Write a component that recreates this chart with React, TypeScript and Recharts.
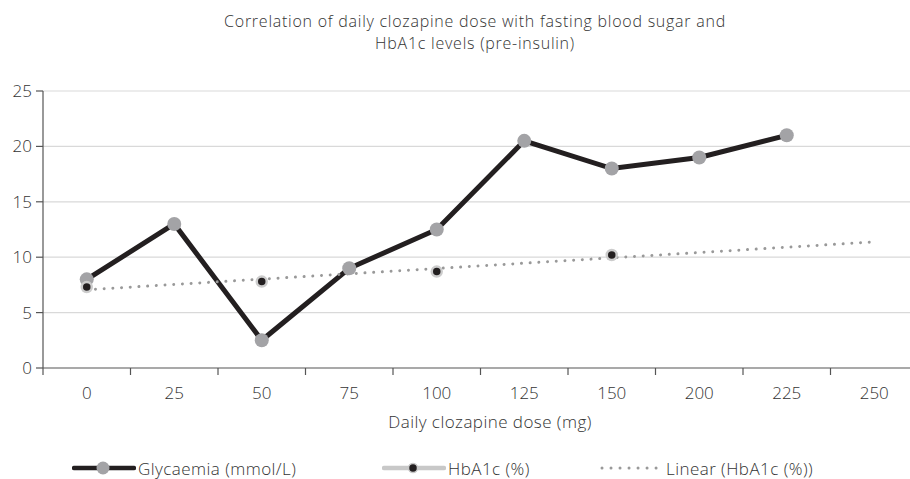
import React from "react";
import { LineChart, Line, XAxis, YAxis, CartesianGrid } from "recharts";

const doses = ["0", "25", "50", "75", "100", "125", "150", "200", "225", "250"];
const glycaemia = [8, 13, 2.5, 9, 12.5, 20.5, 18, 19, 21, null];
const hba1c = [7.3, null, 7.8, null, 8.7, null, 10.2, null, null, null];
// Excel linear trendline, read at its two ends
const hba1cTrend = [7.06, null, null, null, null, null, null, null, null, 11.38];
const yTicks = [0, 5, 10, 15, 20, 25];

const data = doses.map((d, i) => ({
  dose: d,
  glycaemia: glycaemia[i],
  hba1c: hba1c[i],
  trend: hba1cTrend[i],
}));

const FONT = "'Open Sans', sans-serif";
const WEIGHT = 300;
const SPACING = "0.45px";
const TEXT = "#333333";
const AXIS = "#555555";
const CHART_W = 918;
const CHART_H = 479;
const MARGIN = { top: 91, right: 0, bottom: 81, left: 0 };
const Y_AXIS_W = 43;
const AXIS_Y = CHART_H - MARGIN.bottom - 30;
const BW = (CHART_W - Y_AXIS_W) / doses.length;

const XTick = (props: any) => {
  const { x, payload, index } = props;
  const left = x - BW / 2;
  return (
    <g>
      <line x1={left} x2={left} y1={AXIS_Y} y2={AXIS_Y + 7} stroke={AXIS} strokeWidth={1.2} />
      {index === doses.length - 1 && (
        <line x1={x + BW / 2} x2={x + BW / 2} y1={AXIS_Y} y2={AXIS_Y + 7} stroke={AXIS} strokeWidth={1.2} />
      )}
      <text
        x={x}
        y={AXIS_Y + 24}
        textAnchor="middle"
        dominantBaseline="central"
        fill={TEXT}
        fontSize={17}
        fontWeight={WEIGHT}
        fontFamily={FONT}
      >
        {payload.value}
      </text>
    </g>
  );
};

const GlyDot = (props: any) => {
  const { cx, cy, value } = props;
  if (value == null || cx == null) return null;
  return <circle cx={cx} cy={cy} r={7} fill="#a3a3a6" />;
};

const HbDot = (props: any) => {
  const { cx, cy, value } = props;
  if (value == null || cx == null) return null;
  return <circle cx={cx} cy={cy} r={5} fill="#231f20" stroke="#cccccc" strokeWidth={2.5} />;
};

function LegendRow() {
  const item = (left: number, icon: React.ReactNode, label: string) => (
    <div style={{ position: "absolute", left, top: 0, display: "flex", alignItems: "center", height: 20 }}>
      <svg width={64} height={20} style={{ display: "block" }}>
        {icon}
      </svg>
      <span style={{ marginLeft: 2, whiteSpace: "nowrap" }}>{label}</span>
    </div>
  );
  return (
    <div
      style={{
        position: "absolute",
        left: 0,
        top: 458,
        width: 910,
        height: 20,
        fontFamily: FONT,
        fontWeight: WEIGHT,
        fontSize: 17,
        letterSpacing: SPACING,
        color: TEXT,
      }}
    >
      {item(
        72,
        <>
          <line x1={2} x2={62} y1={10} y2={10} stroke="#231f20" strokeWidth={4.5} strokeLinecap="round" />
          <circle cx={31} cy={10} r={6.5} fill="#a3a3a6" />
        </>,
        "Glycaemia (mmol/L)"
      )}
      {item(
        382,
        <>
          <line x1={2} x2={62} y1={10} y2={10} stroke="#c8c8c8" strokeWidth={4.5} strokeLinecap="round" />
          <circle cx={31} cy={10} r={4.5} fill="#231f20" stroke="#c8c8c8" strokeWidth={1.5} />
        </>,
        "HbA1c (%)"
      )}
      {item(
        600,
        <line x1={2} x2={58} y1={10} y2={10} stroke="#999999" strokeWidth={3} strokeDasharray="0.01 9" strokeLinecap="round" />,
        "Linear (HbA1c (%))"
      )}
    </div>
  );
}

export default function App() {
  return (
    <div
      style={{
        position: "absolute",
        left: 0,
        top: 0,
        width: 910,
        height: 479,
        overflow: "hidden",
        background: "#fff",
      }}
    >
      <div
        style={{
          position: "absolute",
          left: 40,
          top: 10,
          width: 870,
          textAlign: "center",
          fontFamily: FONT,
          fontWeight: WEIGHT,
          fontSize: 16,
          lineHeight: "22px",
          letterSpacing: "0.75px",
          color: TEXT,
        }}
      >
        Correlation of daily clozapine dose with fasting blood sugar and
        <br />
        HbA1c levels (pre-insulin)
      </div>
      <LineChart width={CHART_W} height={CHART_H} data={data} margin={MARGIN}>
        <CartesianGrid
          vertical={false}
          stroke="#d9d9d9"
          strokeWidth={1.2}
          horizontalValues={yTicks.slice(1)}
        />
        <XAxis
          dataKey="dose"
          scale="band"
          height={30}
          tickLine={false}
          axisLine={{ stroke: AXIS, strokeWidth: 1.2 }}
          tick={<XTick />}
          interval={0}
        />
        <YAxis
          width={Y_AXIS_W}
          domain={[0, 25]}
          ticks={yTicks}
          tickSize={7}
          tickMargin={4}
          axisLine={{ stroke: AXIS, strokeWidth: 1.2 }}
          tickLine={{ stroke: AXIS, strokeWidth: 1.2 }}
          tick={{ fill: TEXT, fontSize: 17, fontWeight: WEIGHT, fontFamily: FONT }}
        />
        <Line
          dataKey="glycaemia"
          stroke="#231f20"
          strokeWidth={5}
          dot={<GlyDot />}
          activeDot={false}
          isAnimationActive={false}
        />
        <Line
          dataKey="hba1c"
          stroke="none"
          dot={<HbDot />}
          activeDot={false}
          isAnimationActive={false}
        />
        <Line
          dataKey="trend"
          connectNulls
          stroke="#999999"
          strokeWidth={3}
          strokeDasharray="0.01 8.7"
          strokeLinecap="round"
          dot={false}
          activeDot={false}
          isAnimationActive={false}
        />
      </LineChart>
      <div
        style={{
          position: "absolute",
          left: 0,
          top: 410,
          width: 980,
          textAlign: "center",
          fontFamily: FONT,
          fontWeight: WEIGHT,
          fontSize: 17,
          letterSpacing: SPACING,
          color: TEXT,
        }}
      >
        Daily clozapine dose (mg)
      </div>
      <LegendRow />
    </div>
  );
}
